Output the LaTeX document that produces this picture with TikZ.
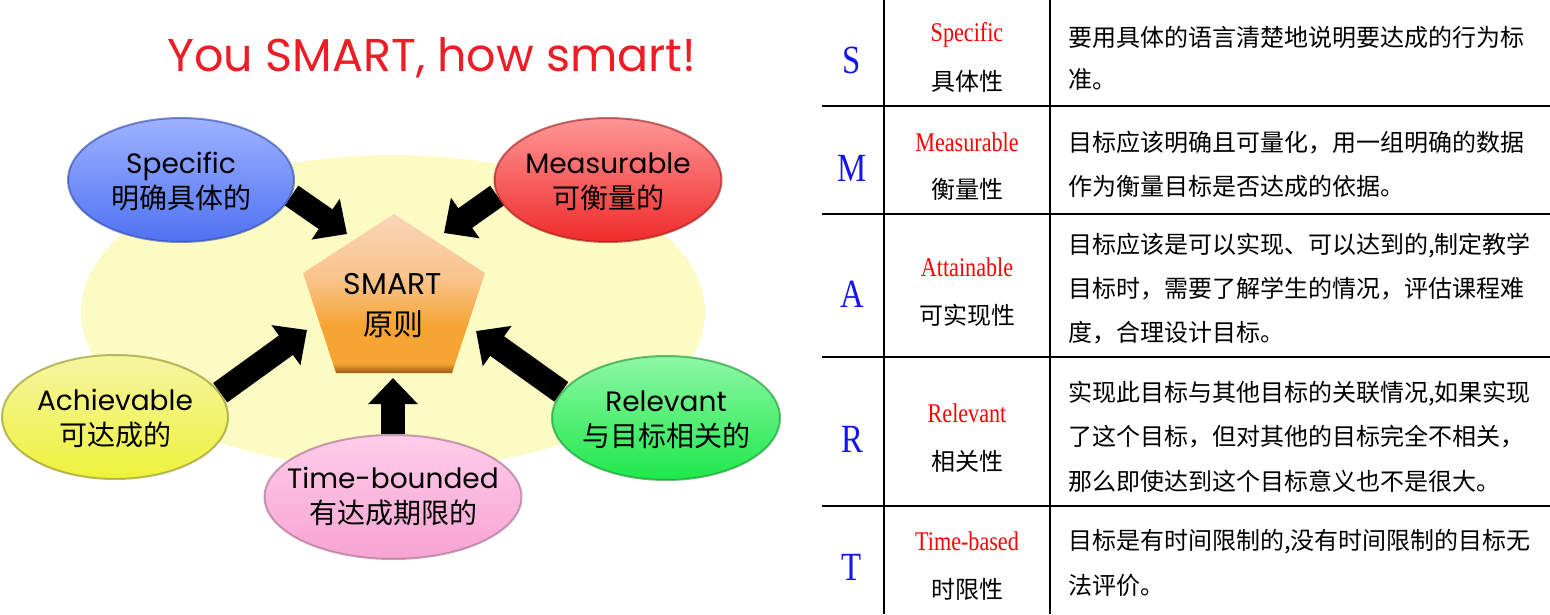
\documentclass[tikz,border=0pt]{standalone}
\usepackage{fontspec}
\setmainfont{Poppins}
\newfontfamily\cjk{Noto Sans CJK SC}
\newfontfamily\tserif[FakeStretch=0.82]{Liberation Serif}
\usetikzlibrary{shapes.geometric,arrows.meta}
\pgfdeclarelayer{bg}
\pgfsetlayers{bg,main}
\definecolor{titlered}{HTML}{EE1C25}
\definecolor{bgyellow}{HTML}{FDFBC4}
\definecolor{letterblue}{HTML}{1414F0}
\definecolor{tabred}{HTML}{FF0000}
\definecolor{penttop}{HTML}{FAD5B8}
\definecolor{pentmid}{HTML}{F9C48C}
\definecolor{pentlow}{HTML}{F6A534}
\definecolor{pentband}{HTML}{9C5A12}
\definecolor{bluetop}{HTML}{9EB2FF}
\definecolor{bluebot}{HTML}{4F72F2}
\definecolor{blueedge}{HTML}{2D48A8}
\definecolor{redtop}{HTML}{FF9696}
\definecolor{redbot}{HTML}{F02A2A}
\definecolor{rededge}{HTML}{9E1A1A}
\definecolor{yeltop}{HTML}{F5F5A2}
\definecolor{yelbot}{HTML}{EEF23A}
\definecolor{yeledge}{HTML}{8C8C20}
\definecolor{grntop}{HTML}{8DF7A5}
\definecolor{grnbot}{HTML}{1EE84A}
\definecolor{grnedge}{HTML}{169030}
\definecolor{pnktop}{HTML}{FFCDEA}
\definecolor{pnkbot}{HTML}{F7A3D2}
\definecolor{pnkedge}{HTML}{A06889}
\pgfdeclareverticalshading{pentshade}{100bp}{color(0bp)=(pentband); color(25bp)=(pentband); color(28bp)=(pentlow); color(40bp)=(pentlow); color(55bp)=(pentmid); color(75bp)=(penttop); color(100bp)=(penttop)}
\begin{document}
\begin{tikzpicture}[x=1pt,y=-1pt,
  bubble/.style={ellipse, inner sep=0pt, line width=2pt, draw opacity=0.6},
  bubbletext/.style={align=center, inner sep=0pt, font=\fontsize{28}{35}\selectfont},
  blockarrow/.style={line width=24pt, -{Triangle[width=48pt,length=26pt]}},
  cell/.style={font=\cjk\fontsize{24}{24}\selectfont, inner sep=0pt},
  enword/.style={font=\tserif\fontsize{27}{27}\selectfont, text=tabred, inner sep=0pt},
  bigletter/.style={font=\tserif\fontsize{40}{40}\selectfont, text=letterblue, inner sep=0pt},
  desc/.style={font=\cjk\fontsize{24}{24}\selectfont, anchor=west, inner sep=0pt},
  rule/.style={line width=2pt}]
\useasboundingbox (0,0) rectangle (1550,614);

% ---------- left diagram ----------
\node (title) at (432,58) {\fontsize{46}{46}\selectfont\color{titlered}You SMART, how smart!};

\coordinate (bg) at (393,312);

% pentagon
\coordinate (p1) at (394,214);
\coordinate (p2) at (485,273);
\coordinate (p3) at (452,373);
\coordinate (p4) at (336,373);
\coordinate (p5) at (303,273);
\shade[shading=pentshade] (p1) -- (p2) -- (p3) -- (p4) -- (p5) -- cycle;
\node[align=center, font=\fontsize{30}{41}\selectfont] (pent) at (393,306) {SMART\\{\cjk 原则}};

\node[bubble, minimum width=226pt, minimum height=124pt, top color=bluetop, bottom color=bluebot, draw=blueedge] (spec) at (181,180) {};
\node[bubbletext] (spect) at (181,181.5) {Specific\\{\cjk 明确具体的}};
\node[bubble, minimum width=227pt, minimum height=124pt, top color=redtop, bottom color=redbot, draw=rededge] (meas) at (608,180) {};
\node[bubbletext] (meast) at (608,181.5) {Measurable\\{\cjk 可衡量的}};
\node[bubble, minimum width=226pt, minimum height=124pt, top color=yeltop, bottom color=yelbot, draw=yeledge] (ach) at (115,417) {};
\node[bubbletext] (acht) at (115,419) {Achievable\\{\cjk 可达成的}};
\node[bubble, minimum width=228pt, minimum height=124pt, top color=grntop, bottom color=grnbot, draw=grnedge] (rel) at (666,418) {};
\node[bubbletext] (relt) at (666,420) {Relevant\\{\cjk 与目标相关的}};
\node[bubble, minimum width=257pt, minimum height=124pt, top color=pnktop, bottom color=pnkbot, draw=pnkedge] (time) at (393,497) {};
\node[bubbletext] (timet) at (393,496.5) {Time-bounded\\{\cjk 有达成期限的}};

\coordinate (t1) at (347,234);
\coordinate (t2) at (444,233);
\coordinate (t3) at (307,330);
\coordinate (t4) at (476,331);
\coordinate (t5) at (393,378);

\begin{pgfonlayer}{bg}
\fill[bgyellow] (bg) ellipse [x radius=312pt, y radius=157pt];
\draw[blockarrow] (spec.-8) -- (t1);
\draw[blockarrow] (meas.188) -- (t2);
\draw[blockarrow] (ach.13) -- (t3);
\draw[blockarrow] (rel.166) -- (t4);
\draw[blockarrow] (time.90) -- (t5);
\end{pgfonlayer}

% ---------- table ----------
\coordinate (v1t) at (884,0);
\coordinate (v1b) at (884,614);
\coordinate (v2t) at (1050,0);
\coordinate (v2b) at (1050,614);
\draw[rule] (v1t) -- (v1b);
\draw[rule] (v2t) -- (v2b);
\foreach \y/\n in {106/a,214/b,357/c,506/d}{
  \coordinate (h\n l) at (822,\y);
  \coordinate (h\n r) at (1550,\y);
  \draw[rule] (h\n l) -- (h\n r);
}

% S
\node[bigletter] (ls) at (852,60) {S};
\node[enword] (es) at (967,35) {Specific};
\node[cell] (cs) at (967,81) {具体性};
\node[desc] (ds1) at (1068,37) {要用具体的语言清楚地说明要达成的行为标};
\node[desc] (ds2) at (1068,79) {准。};
% M
\node[bigletter] (lm) at (852,168) {M};
\node[enword] (em) at (967,142) {Measurable};
\node[cell] (cm) at (967,189) {衡量性};
\node[desc] (dm1) at (1068,143) {目标应该明确且可量化，用一组明确的数据};
\node[desc] (dm2) at (1068,186) {作为衡量目标是否达成的依据。};
% A
\node[bigletter] (la) at (852,294) {A};
\node[enword] (ea) at (967,267) {Attainable};
\node[cell] (ca) at (967,315) {可实现性};
\node[desc] (da1) at (1068,246) {目标应该是可以实现、可以达到的,制定教学};
\node[desc] (da2) at (1068,289) {目标时，需要了解学生的情况，评估课程难};
\node[desc] (da3) at (1068,333) {度，合理设计目标。};
% R
\node[bigletter] (lr) at (852,439) {R};
\node[enword] (er) at (967,413) {Relevant};
\node[cell] (cr) at (967,461) {相关性};
\node[desc] (dr1) at (1068,394) {实现此目标与其他目标的关联情况,如果实现};
\node[desc] (dr2) at (1068,437) {了这个目标，但对其他的目标完全不相关，};
\node[desc] (dr3) at (1068,481) {那么即使达到这个目标意义也不是很大。};
% T
\node[bigletter] (lt) at (852,567) {T};
\node[enword] (et) at (967,541) {Time-based};
\node[cell] (ct) at (967,589) {时限性};
\node[desc] (dt1) at (1068,542) {目标是有时间限制的,没有时间限制的目标无};
\node[desc] (dt2) at (1068,585) {法评价。};
\end{tikzpicture}
\end{document}
